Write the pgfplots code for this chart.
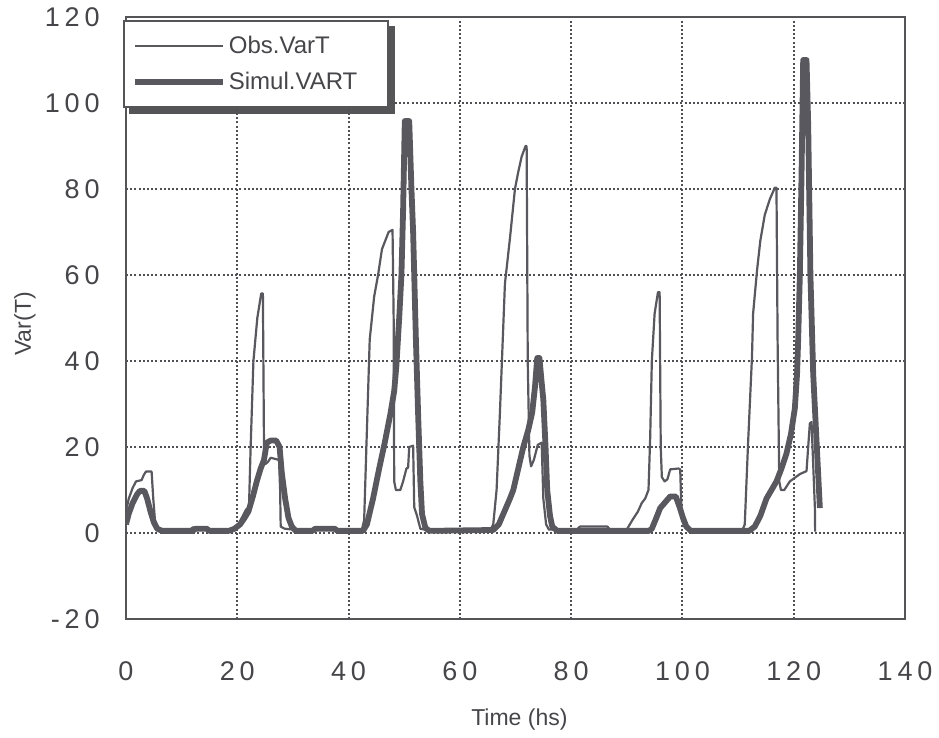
\documentclass[border=0pt]{standalone}
\usepackage{fontspec}
\setmainfont{Liberation Sans}
\newfontfamily\tickfont[LetterSpace=18]{Liberation Sans}
\usepackage{pgfplots}
\pgfplotsset{compat=1.18}
\usetikzlibrary{backgrounds}
\definecolor{linegray}{RGB}{88,88,94}
\definecolor{framegray}{RGB}{85,85,88}
\definecolor{gridgray}{RGB}{80,80,84}
\definecolor{textgray}{RGB}{70,70,74}
\begin{document}
\begin{tikzpicture}
\begin{axis}[
  name=ax,
  scale only axis,
  width=389.5pt, height=301pt,
  xmin=0, xmax=140, ymin=-20, ymax=120,
  xtick={0,20,...,140}, ytick={-20,0,...,120},
  xticklabels={0,20,40,60,80,100,120,140},
  yticklabels={-20,0,20,40,60,80,100,120},
  major tick length=0pt,
  grid=major,
  major grid style={dash pattern=on 1pt off 1.1pt, line width=1pt, gridgray},
  axis line style={line width=1.1pt, framegray},
  xticklabel style={font=\fontsize{13.5}{16}\selectfont\tickfont, textgray, anchor=north, inner sep=0pt, yshift=-21pt},
  yticklabel style={font=\fontsize{13.5}{16}\selectfont\tickfont, textgray, anchor=east, inner sep=0pt, xshift=-13pt},
  xlabel={Time (hs)},
  ylabel={Var(T)},
  xlabel style={font=\fontsize{11.5}{14}\selectfont, textgray, at={(axis description cs:0.505,0)}, anchor=center, yshift=-50.5pt},
  ylabel style={font=\fontsize{11.5}{14}\selectfont, textgray, at={(axis description cs:0,0.49)}, anchor=center, yshift=50.5pt},
  legend cell align=left,
  legend image code/.code={\draw[#1] (0pt,0pt) -- (44pt,0pt);},
  legend style={name=leg, at={(axis description cs:0,1)}, anchor=north west, xshift=-1.5pt, yshift=-1.5pt,
    draw=framegray, line width=1.1pt, fill=white,
    font=\fontsize{12}{14}\selectfont, text=textgray,
    inner xsep=4pt, inner ysep=3.5pt,
    nodes={minimum height=18pt, inner ysep=0pt, inner xsep=1.5pt}},
]
\addplot[linegray, line width=1.1pt, line join=round] coordinates {
(0,5) (0.5,8) (1.2,10.5) (1.8,12) (2.8,12.3) (3.2,13.5) (3.6,14.3) (4.6,14.3) (4.9,8) (5.2,3) (5.8,1.2) (6.5,0.8)
(11.5,0.8) (12,1.3) (14.5,1.3) (15,0.8) (19,0.8) (20,1.5) (21,4) (21.6,5.5) (22.1,6) (22.4,20) (22.9,40) (23.6,50)
(24.3,55.7) (24.6,55.7) (24.8,20) (25,16) (25.5,16.5) (26,17.5) (27.5,17) (27.7,10) (27.8,1.5) (28.5,1) (30,0.8)
(33.5,0.8) (34,1.3) (37.5,1.3) (38,0.8) (42.4,0.8) (42.8,3) (43.2,20) (43.8,45) (44.6,55) (45.3,60) (46,66) (46.6,68)
(47.2,70) (47.9,70.5) (48.1,50) (48.2,12) (48.5,10) (49.3,10) (49.8,12) (50.4,15) (50.7,15.2) (50.9,20) (51.6,20.3)
(51.8,6) (52.3,4) (52.9,1) (54,0.7) (65.5,0.8) (66,2) (66.6,10) (67.2,28) (68.1,58) (69,68.5) (69.9,80) (70.5,84)
(71.1,87.5) (71.8,90) (72,90) (72.2,40) (72.5,18) (72.8,15.5) (73.3,17) (74,20.5) (74.7,21) (75,8) (75.5,2) (76,0.8)
(81,0.8) (81.6,1.5) (86.5,1.5) (87,0.8) (90,0.8) (91,3) (92,5) (92.7,7) (93.3,8) (93.9,10) (94.2,22) (94.5,40) (95,51)
(95.6,56) (95.9,56) (96.1,20) (96.3,13) (96.8,12) (97.3,12.5) (97.8,14.8) (99.3,15) (99.6,14.8) (99.8,6) (100.3,2.5)
(101,1) (102,0.7) (110.8,0.7) (111.2,2) (111.8,21) (112.5,41) (112.7,51) (113.4,61) (114,68) (114.8,74) (115.7,77.6)
(116.6,80.3) (116.9,80.3) (117.1,45) (117.4,12) (117.7,10) (118.3,10) (119.3,12) (121.1,13.7) (122.3,14.4) (122.6,20)
(122.9,25.5) (123.2,25.8) (123.8,6) (123.85,0.3)
};
\addlegendentry{\makebox[74pt][l]{Obs.VarT}}
\addplot[linegray, line width=2.9pt, line join=round] coordinates {
(0,2) (0.5,4.5) (1.2,7) (2,9) (2.5,9.8) (3.3,9.8) (3.8,8) (4.4,5) (5,2.5) (5.6,1) (6.5,0.5) (12,0.5) (12.5,1) (14.5,1)
(15,0.5) (18.5,0.5) (19.5,1) (20.5,2) (21.3,3.5) (22,5) (22.8,8.5) (23.5,12) (24.2,15) (24.8,17) (25.3,21) (26,21.5)
(27,21.5) (27.6,20) (28,14) (28.6,8) (29.2,3.5) (29.8,1.5) (30.5,0.5) (33.5,0.5) (34,1) (37.5,1) (38,0.5) (42.6,0.5)
(43.3,2) (44.4,8) (45.5,15) (46.5,21) (47.5,27.6) (48.2,33) (48.6,39) (49.1,50) (49.5,60) (49.8,75) (50.1,95.8)
(50.9,95.8) (51.3,80) (51.6,70) (52.1,45) (52.5,27.6) (52.9,12) (53.2,4.4) (53.8,1.2) (54.5,0.5) (66,0.7) (67,2)
(68,5) (69,8) (69.6,10) (70.5,15) (71.4,20) (72.3,24) (73,28) (73.5,34) (73.9,40.7) (74.3,40.7) (74.7,35) (75,31)
(75.4,20) (75.7,10) (76.2,4) (76.6,1.5) (77.5,0.5) (94,0.5) (94.5,1) (95.3,3.5) (96,5.8) (96.8,7) (97.8,8.5) (98.8,8.5)
(99.5,6) (100.1,3.5) (100.7,1.5) (101.5,0.5) (112,0.5) (113,1.5) (114,4) (115.1,8) (116,10) (116.9,12) (117.8,15)
(118.7,18.5) (119.5,23) (120.2,29) (120.6,37) (120.8,45) (121.1,60) (121.4,83) (121.7,110) (122.3,110) (122.6,95)
(123,60) (123.5,37) (124.1,21.4) (124.7,5.8)
};
\addlegendentry{\makebox[74pt][l]{Simul.VART}}
\end{axis}
\begin{scope}[on background layer]
\fill[framegray] ([shift={(3pt,-3pt)}]leg.south west) rectangle ([shift={(3pt,-3pt)}]leg.north east);
\end{scope}
\path[use as bounding box] ([shift={(-63pt,-55pt)}]ax.south west) rectangle ([shift={(17pt,8.5pt)}]ax.north east);
\end{tikzpicture}
\end{document}
